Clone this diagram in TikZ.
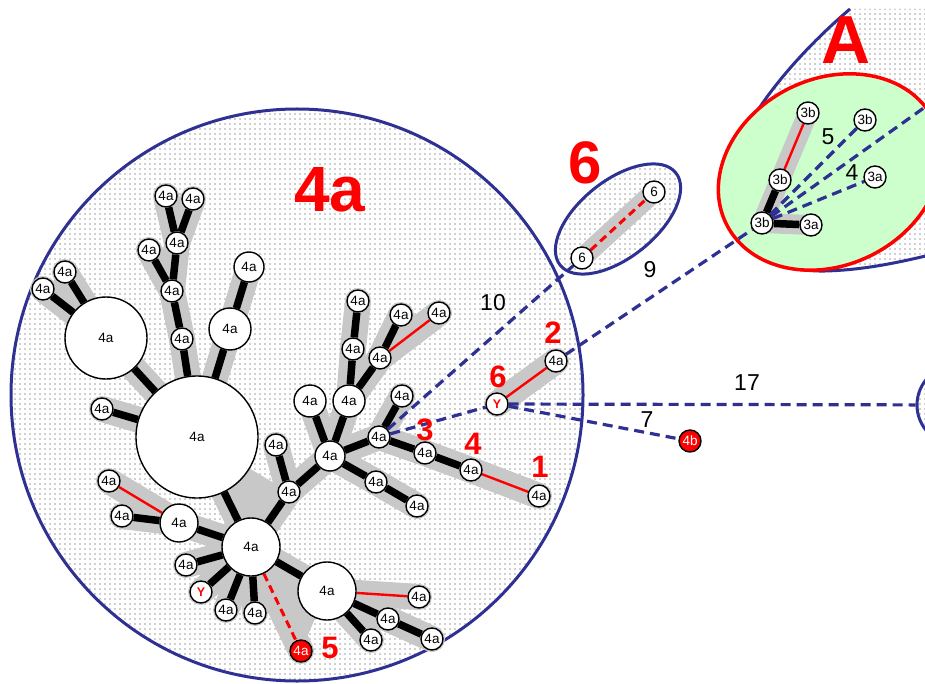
\documentclass[tikz,border=0pt]{standalone}
\usepackage{fontspec}
\setmainfont{Liberation Sans}
\usetikzlibrary{patterns.meta}
\definecolor{navy}{RGB}{46,49,146}
\definecolor{band}{RGB}{200,200,200}
\definecolor{mint}{RGB}{204,255,204}
\definecolor{dotgray}{RGB}{160,160,160}
\definecolor{hot}{RGB}{255,0,0}
\pgfdeclarelayer{back}
\pgfdeclarelayer{bands}
\pgfdeclarelayer{edges}
\pgfdeclarelayer{links}
\pgfsetlayers{back,bands,edges,links,main}
\tikzset{
  dotfill/.style={preaction={fill=white}, pattern={Dots[distance=5pt,radius=0.9pt]}, pattern color=dotgray},
  rim/.style={draw=navy, line width=3pt},
  nd/.style={circle, draw=black, fill=white, line width=1.4pt, minimum size=22pt, inner sep=0pt,
             font=\fontsize{13.5}{13.5}\selectfont},
  rednd/.style={nd, fill=hot, text=white},
  ynd/.style={nd, text=hot, font=\fontsize{12.5}{12.5}\selectfont\bfseries},
  tie/.style={line width=7.5pt, black},
  rtie/.style={line width=2.4pt, hot},
  rdtie/.style={line width=3pt, hot, dash pattern=on 8pt off 5pt},
  bandline/.style={line width=26pt, band, line cap=round, line join=round},
  thinband/.style={bandline, line width=20pt},
  link/.style={navy, line width=3.2pt, dash pattern=on 10pt off 6pt},
  tag/.style={font=\fontsize{23}{23}\selectfont},
  evt/.style={text=hot, font=\fontsize{31}{31}\selectfont\bfseries},
  bigtag/.style={text=hot, font=\fontsize{64}{64}\selectfont\bfseries}
}
\begin{document}
\begin{tikzpicture}[x=1pt,y=-1pt]
\useasboundingbox (0,0) rectangle (925,684);

% ---- nodes: upper tree
\node[nd] (n1) at (166,196) {4a};
\node[nd] (n2) at (193,199) {4a};
\node[nd] (n3) at (177,243) {4a};
\node[nd] (n4) at (149,250) {4a};
\node[nd] (n5) at (172,291) {4a};
\node[nd] (n6) at (182,339) {4a};
\node[nd, minimum size=30pt] (n7) at (249,267) {4a};
\node[nd, minimum size=42pt] (n8) at (230,329) {4a};
\node[nd, minimum size=82pt] (L1) at (106,338) {4a};
\node[nd] (n9) at (65,272) {4a};
\node[nd] (n10) at (43,289) {4a};
\node[nd] (n11) at (102,409) {4a};
\node[nd, minimum size=122pt] (big) at (197,437) {4a};

% ---- nodes: middle tree
\node[nd, minimum size=30pt] (c1) at (330,456) {4a};
\node[nd, minimum size=32pt] (c2) at (310,401) {4a};
\node[nd, minimum size=32pt] (c3) at (349,401) {4a};
\node[nd] (c4) at (353,349) {4a};
\node[nd] (c5) at (358,301) {4a};
\node[nd] (c6) at (380,358) {4a};
\node[nd] (c7) at (401,315) {4a};
\node[nd] (c8) at (439,313) {4a};
\node[nd] (c9) at (379,437) {4a};
\node[nd] (c10) at (402,396) {4a};
\node[nd] (c11) at (425,453) {4a};
\node[nd] (c12) at (471,470) {4a};
\node[nd] (c13) at (539,496) {4a};
\node[nd] (c14) at (376,482) {4a};
\node[nd] (c15) at (417,506) {4a};
\node[nd] (c16) at (289,492) {4a};
\node[nd] (c17) at (276,445) {4a};
\node[ynd] (y1) at (497,404) {Y};
\node[nd] (c18) at (556,361) {4a};
\node[rednd] (r4b) at (690,441) {4b};

% ---- nodes: lower tree
\node[nd, minimum size=58pt] (b1) at (251,547) {4a};
\node[nd, minimum size=38pt] (b2) at (179,523) {4a};
\node[nd] (b3) at (109,481) {4a};
\node[nd] (b4) at (122,516) {4a};
\node[nd] (b5) at (186,565) {4a};
\node[ynd] (y2) at (201,592) {Y};
\node[nd] (b6) at (226,610) {4a};
\node[nd] (b7) at (255,613) {4a};
\node[rednd] (b8) at (301,651) {4a};
\node[nd, minimum size=58pt] (b9) at (327,591) {4a};
\node[nd] (b10) at (419,597) {4a};
\node[nd] (b11) at (388,619) {4a};
\node[nd] (b12) at (432,639) {4a};
\node[nd] (b13) at (371,640) {4a};

% ---- nodes: group 6
\node[nd] (s1) at (582,258) {6};
\node[nd] (s2) at (654,192) {6};

% ---- nodes: group A
\node[nd] (t1) at (808,113) {3b};
\node[nd] (t2) at (780,180) {3b};
\node[nd] (t3) at (762,223) {3b};
\node[nd] (t4) at (811,225) {3a};
\node[nd] (t5) at (865,120) {3b};
\node[nd] (t6) at (875,177) {3a};

% ---- neighbouring cluster on the right
\node[circle, rim, minimum size=80pt, dotfill] (rc) at (957,405) {};
\coordinate (offA) at (935,100);

% ---- regions
\begin{pgfonlayer}{back}
  \fill[white] (0,0) rectangle (925,684);
  % region A
  \path[dotfill] (850,9) .. controls (790,60) and (722,140) .. (726,200)
     .. controls (730,250) and (775,272) .. (825,271)
     .. controls (865,270) and (900,262) .. (930,255) -- (930,9) -- cycle;
  \draw[rim] (850,9) .. controls (790,60) and (722,140) .. (726,200)
     .. controls (730,250) and (775,272) .. (825,271)
     .. controls (865,270) and (900,262) .. (930,255);
  \draw[draw=hot, line width=3.5pt, fill=mint, rotate around={27:(830,172)}]
     (830,172) ellipse [x radius=116, y radius=93];
  % region 4a
  \draw[rim, dotfill] (297,395) circle [radius=286];
  % region 6
  \draw[rim, dotfill, rotate around={38.6:(618,219)}]
     (618,219) ellipse [x radius=74, y radius=38.5];
\end{pgfonlayer}

% ---- grey shadows of the trees
\begin{pgfonlayer}{bands}
  \fill[band] (big.center) -- (b1.center) -- (c16.center) -- cycle;
  \fill[band] (L1.center) -- (n10.center) -- (n9.center) -- cycle;
  \fill[band] (b1.center) -- (b9.center) -- (b8.center) -- cycle;
  \foreach \a/\b in {n1/n3, n2/n3, n3/n5, n4/n5, n5/n6, n6/big, n7/n8, n8/big,
      L1/big, n9/L1, n10/L1, n11/big, big/b1, b1/c16, c16/c17, c16/c1, c1/c2,
      c1/c3, c3/c4, c4/c5, c3/c6, c6/c7, c6/c8, c1/c9, c9/c10, c9/c11, c11/c12,
      c12/c13, c1/c14, c14/c15, y1/c18, b2/b1, b3/b2, b4/b2, b5/b1, y2/b1,
      b6/b1, b7/b1, b8/b1, b9/b1, b9/b10, b11/b9, b11/b12, b13/b9}
    \draw[bandline] (\a.center) -- (\b.center);
  \draw[thinband] (t1.center) -- (t2.center) -- (t3.center) -- (t4.center);
  \draw[thinband] (s1.center) -- (s2.center);
\end{pgfonlayer}

% ---- tree edges
\begin{pgfonlayer}{edges}
  \foreach \a/\b in {n1/n3, n2/n3, n3/n5, n4/n5, n5/n6, n6/big, n7/n8, n8/big,
      L1/big, n9/L1, n10/L1, n11/big, big/b1, b1/c16, c16/c17, c16/c1, c1/c2,
      c1/c3, c3/c4, c4/c5, c3/c6, c6/c7, c1/c9, c9/c10, c9/c11, c11/c12,
      c1/c14, c14/c15, b2/b1, b4/b2, b5/b1, y2/b1, b6/b1, b7/b1, b9/b1,
      b11/b9, b11/b12, b13/b9, t2/t3, t3/t4}
    \draw[tie] (\a) -- (\b);
  \foreach \a/\b in {c6/c8, c12/c13, y1/c18, b3/b2, b9/b10, t1/t2}
    \draw[rtie] (\a) -- (\b);
  \draw[rdtie] (b1) -- (b8);
  \draw[rdtie] (s1) -- (s2);
\end{pgfonlayer}

% ---- dashed links between groups
\begin{pgfonlayer}{links}
  \draw[link] (c9) -- (s1);
  \draw[link] (c9) -- (y1);
  \draw[link] (c18) -- (t3);
  \draw[link] (t3) -- (t5);
  \draw[link] (t3) -- (t6);
  \draw[link] (t3) -- (offA);
  \draw[link] (y1) -- (rc);
  \draw[link] (y1) -- (r4b);
\end{pgfonlayer}

% ---- link labels
\node[tag] (l10) at (493,303) {10};
\node[tag] (l9) at (650,270) {9};
\node[tag] (l17) at (747,383) {17};
\node[tag] (l7) at (647,420) {7};
\node[tag] (l5) at (828,137) {5};
\node[tag] (l4) at (852,173) {4};

% ---- event numbers
\node[evt] (e2) at (553,333) {2};
\node[evt] (e6) at (498,377) {6};
\node[evt] (e3) at (425,430) {3};
\node[evt] (e4) at (473,444) {4};
\node[evt] (e1) at (540,467) {1};
\node[evt] (e5) at (330,648) {5};

% ---- group titles
\node[bigtag] (g4a) at (330,190) {4a};
\node[bigtag, font=\fontsize{60}{60}\selectfont\bfseries] (g6) at (585,163) {6};
\node[bigtag, font=\fontsize{68}{68}\selectfont\bfseries] (gA) at (846,40) {A};
\end{tikzpicture}
\end{document}
